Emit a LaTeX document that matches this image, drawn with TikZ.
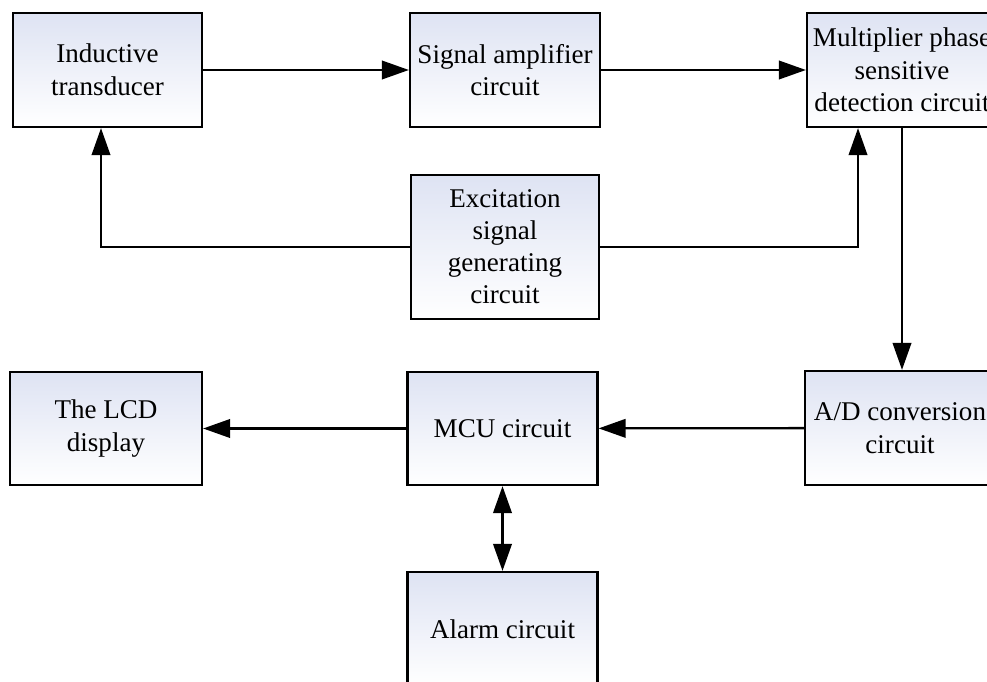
\documentclass[tikz,border=0pt]{standalone}
\usepackage{fontspec}
\setmainfont{Liberation Serif}
\usetikzlibrary{arrows.meta}
\definecolor{boxtop}{RGB}{222,227,243}
\tikzset{
  blockbox/.style = {draw, line width=1.3pt, top color=boxtop, bottom color=white,
    inner sep=0pt, align=center, minimum width=3.8cm, minimum height=2.28cm,
    font=\fontsize{15.4}{18.6}\selectfont},
  link/.style = {line width=1.3pt, -{Triangle[length=0.54cm,width=0.37cm]}},
  twolink/.style = {line width=1.3pt, {Triangle[length=0.54cm,width=0.37cm]}-{Triangle[length=0.54cm,width=0.37cm]}}
}
\begin{document}
\begin{tikzpicture}[x=0.02cm, y=-0.02cm]
\useasboundingbox (0,0) rectangle (987,682);
\clip (0,0) rectangle (987,682);
\node (ind) [blockbox, minimum width=3.78cm] at (107.5,70) {Inductive\\transducer};
\node (amp) [blockbox] at (505,70) {Signal amplifier\\circuit};
\node (mult) [blockbox] at (902,70) {Multiplier phase\\sensitive\\detection circuit};
\node (exc) [blockbox, minimum width=3.76cm, minimum height=2.88cm, font=\fontsize{15.4}{18.2}\selectfont] at (505,247) {Excitation\\signal\\generating\\circuit};
\node (lcd) [blockbox, minimum width=3.84cm, minimum height=2.26cm] at (106,428.5) {The LCD\\display};
\node (mcu) [blockbox, minimum height=2.26cm] at (502.5,428.5) {MCU circuit};
\node (ad) [blockbox, minimum height=2.28cm] at (900,428) {A/D conversion\\circuit};
\node (alarm) [blockbox] at (502.5,629) {Alarm circuit};
\draw [link] (ind) -- (amp);
\draw [link] (amp) -- (mult);
\draw [link] (exc.west) -| ([xshift=-0.13cm]ind.south);
\draw [link] (exc.east) -| ([xshift=-0.88cm]mult.south);
\draw [link] (mult.south) -- (mult.south |- ad.north);
\draw [link] (ad) -- (mcu);
\draw [link] (mcu) -- (lcd);
\draw [twolink] (mcu) -- (alarm);
\end{tikzpicture}
\end{document}
